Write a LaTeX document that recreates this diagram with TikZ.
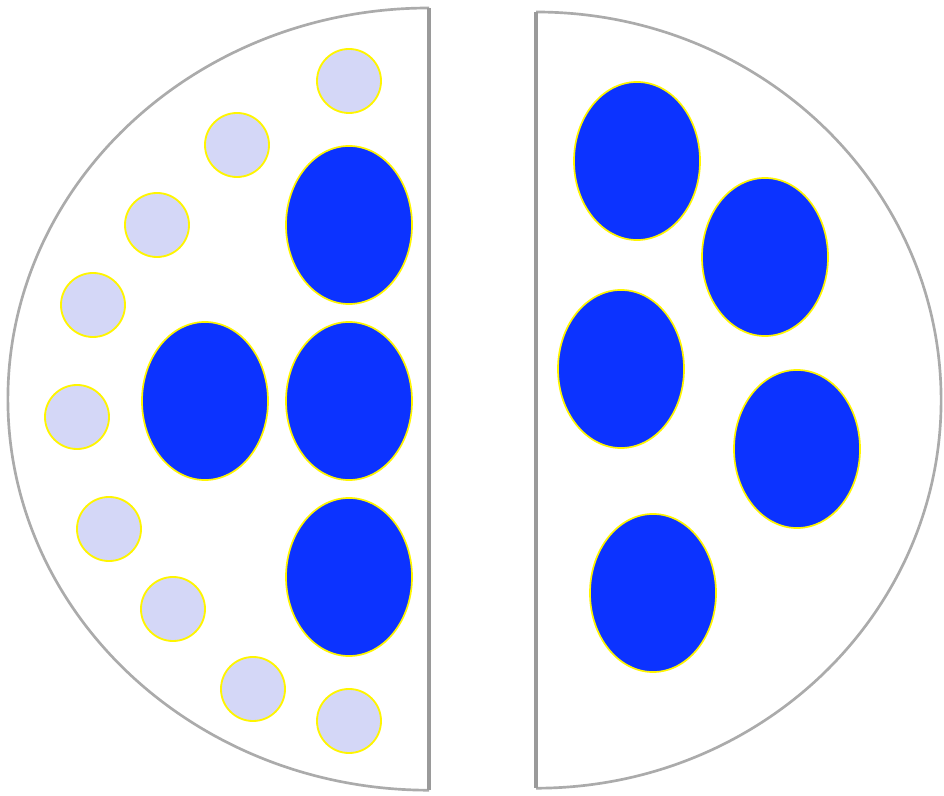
\documentclass[tikz,border=0pt]{standalone}
\usetikzlibrary{shapes.geometric}
\definecolor{cellblue}{HTML}{0C33FF}
\definecolor{lavender}{HTML}{D4D7F7}
\definecolor{rimyellow}{HTML}{FFF500}
\definecolor{wallgray}{HTML}{ABABAB}
\tikzset{
  small/.style={circle, draw=rimyellow, fill=lavender, line width=1.3pt, minimum size=1.6cm, inner sep=0pt},
  big/.style={ellipse, draw=rimyellow, fill=cellblue, line width=1.2pt, minimum width=3.15cm, minimum height=3.95cm, inner sep=0pt},
  wall/.style={draw=wallgray, line width=1.9pt},
  flat/.style={draw=wallgray!90!black, line width=2.6pt}
}
\begin{document}
\begin{tikzpicture}[x=0.025cm, y=0.025cm]
\useasboundingbox (0,0) rectangle (944,795);
% left half
\draw[wall] (429,787) arc[start angle=90, end angle=270, x radius=10.525cm, y radius=9.775cm];
\draw[flat] (429,787) -- (429,5);
% right half
\draw[wall] (536,783) arc[start angle=90, end angle=-90, x radius=10.125cm, y radius=9.7cm];
\draw[flat] (536,783) -- (536,7);
% small circles (py -> 795-py)
\node[small] (s1) at (349,714) {};
\node[small] (s2) at (237,650) {};
\node[small] (s3) at (157,570) {};
\node[small] (s4) at (93,490) {};
\node[small] (s5) at (77,378) {};
\node[small] (s6) at (109,266) {};
\node[small] (s7) at (173,186) {};
\node[small] (s8) at (253,106) {};
\node[small] (s9) at (349,74) {};
% big ellipses left
\node[big] (b1) at (349,570) {};
\node[big] (b2) at (205,394) {};
\node[big] (b3) at (349,394) {};
\node[big] (b4) at (349,218) {};
% big ellipses right
\node[big] (r1) at (637,634) {};
\node[big] (r2) at (765,538) {};
\node[big] (r3) at (621,426) {};
\node[big] (r4) at (797,346) {};
\node[big] (r5) at (653,202) {};
\end{tikzpicture}
\end{document}
